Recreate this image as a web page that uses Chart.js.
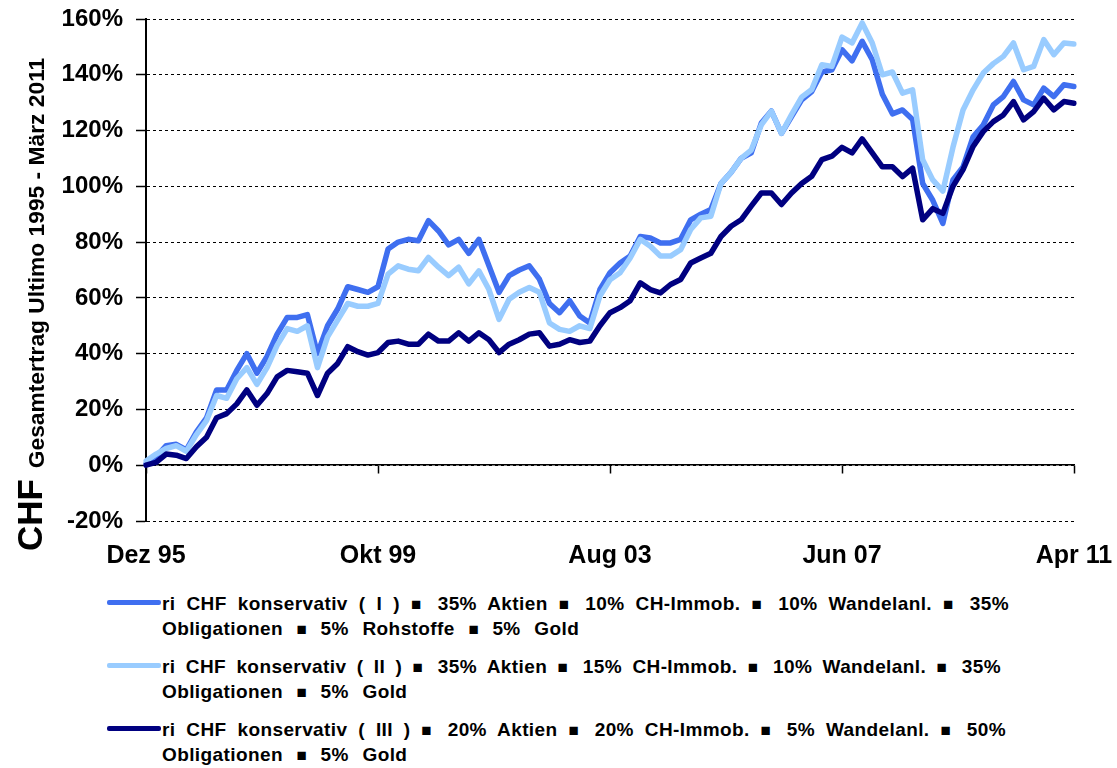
<!DOCTYPE html>
<html>
<head>
<meta charset="utf-8">
<script src="https://cdn.jsdelivr.net/npm/chart.js@4.4.1/dist/chart.umd.min.js"></script>
<style>
  html, body { margin: 0; padding: 0; background: #fff; }
  #wrap { position: relative; width: 1117px; height: 768px; overflow: hidden; }
  #chart { position: absolute; left: 0; top: 0; }
  #legend { position: absolute; left: 107px; top: 592px; font: bold 19px "Liberation Sans", Arial, sans-serif; color: #000; }
  .entry { position: relative; padding-left: 55px; margin-bottom: 13px; line-height: 24px; letter-spacing: 0.4px; }
  .l1 { text-align: justify; text-align-last: justify; }
  .l2 { word-spacing: 8px; }
  .sq { font-size: 17px; letter-spacing: 0; }
  .swatch { position: absolute; left: 0; top: 8px; width: 54px; height: 5px; border-radius: 2px; }
</style>
</head>
<body>
<div id="wrap">
  <canvas id="chart" width="1117" height="575"></canvas>
  <div id="legend"></div>
</div>
<script>
// Monatsnamen fuer die Kategorien (alle 2 Monate ab Dez 95)
const monthNames = ["Jan", "Feb", "Mär", "Apr", "Mai", "Jun", "Jul", "Aug", "Sep", "Okt", "Nov", "Dez"];
const tickLabels = ["Dez 95", "Okt 99", "Aug 03", "Jun 07", "Apr 11"];

const yTitle = "Gesamtertrag Ultimo 1995 - März 2011";
const unitTitle = "CHF";

// ri CHF konservativ (I)
const seriesI = [
  0.5, 3, 7, 7.5, 5.5, 12, 17, 27, 27, 34, 40, 33, 39, 47, 53, 53, 54, 40, 50, 56,
  64, 63, 62, 64, 77.5, 80, 81, 80.5, 87.7, 84, 79, 81, 76, 81, 71.5, 62, 68, 70, 71.5, 66.7,
  58, 54.7, 59, 53.5, 51, 63, 69, 72.5, 75, 82, 81.5, 79.7, 79.7, 81, 88, 90, 91.7, 101, 105, 110,
  112, 122.7, 127, 119, 125, 131, 134, 141, 141.8, 149, 145, 152, 145.4, 133, 126, 127.4, 124, 101, 95, 86.7,
  102.3, 107, 117.8, 122, 129.2, 132.2, 137.6, 131, 129.2, 135.2, 132.2, 136.4, 135.8
];
// ri CHF konservativ (II)
const seriesII = [
  1.5, 4, 6, 7, 5, 11, 16, 25, 24, 31, 35, 29, 35, 43, 49, 48, 50, 35, 46, 52,
  58, 57, 57, 58, 68.5, 71.5, 70.3, 69.7, 74.5, 71, 68, 71, 65, 69.7, 63, 52.3, 59.5, 62, 63.7, 62,
  51, 48.7, 48, 50, 49, 60.7, 66.5, 69, 74.3, 81, 78.5, 75, 75, 77.3, 84.5, 88.7, 89.3, 101, 105, 110,
  113, 122, 127, 119, 125.7, 132, 134.7, 143.6, 143, 153.5, 151.4, 158.6, 151.4, 140, 141, 133.4, 134.6, 109.5, 102.3, 98.3,
  114, 127.4, 134.6, 140.6, 144, 146.6, 151.4, 141.8, 143, 152.6, 147.2, 151.4, 151
];
// ri CHF konservativ (III)
const seriesIII = [
  0, 1, 4, 3.6, 2.4, 6.6, 10, 17, 18.5, 22, 27, 21.5, 25.7, 31.7, 34, 33.5, 33, 25, 33, 36.5,
  42.5, 40.7, 39.5, 40.4, 44, 44.5, 43.4, 43.4, 47, 44.5, 44.5, 47.5, 44.5, 47.5, 45, 40.4, 43.4, 45, 47, 47.5,
  42.7, 43.4, 45, 44, 44.5, 50, 54.7, 56.5, 59, 65.4, 63, 61.8, 64.8, 66.6, 72.5, 74.3, 76, 82, 85.7, 88,
  92.9, 97.6, 97.6, 93.5, 97.6, 101, 103.6, 109.6, 110.8, 114, 112, 117, 112, 107, 107, 103.5, 106.5, 88, 92, 90.3,
  100, 106, 114.3, 119.6, 123.2, 125.6, 130.4, 123.8, 126.8, 131.6, 127.4, 130.4, 129.8
];

const legendI = ["ri CHF konservativ ( I ) ■ 35% Aktien ■ 10% CH-Immob. ■ 10% Wandelanl. ■ 35%", "Obligationen ■ 5% Rohstoffe ■ 5% Gold"];
const legendII = ["ri CHF konservativ ( II ) ■ 35% Aktien ■ 15% CH-Immob. ■ 10% Wandelanl. ■ 35%", "Obligationen ■ 5% Gold"];
const legendIII = ["ri CHF konservativ ( III ) ■ 20% Aktien ■ 20% CH-Immob. ■ 5% Wandelanl. ■ 50%", "Obligationen ■ 5% Gold"];

// Breite der ersten Legendenzeile (Blocksatz)
const legendLineWidths = [847, 839, 844];

const labels = seriesI.map((_, i) => {
    const m = 11 + 2 * i;
    return monthNames[m % 12] + " " + String((95 + Math.floor(m / 12)) % 100).padStart(2, "0");
});

const isTick = l => tickLabels.includes(l);

function fillLine(el, text) {
    text.split("■").forEach((part, i) => {
        if (i > 0) {
            const sq = document.createElement("span");
            sq.className = "sq";
            sq.textContent = "■";
            el.appendChild(sq);
        }
        el.appendChild(document.createTextNode(part));
    });
}

// HTML-Legende mit Zeilenumbruch
const htmlLegend = {
    id: "htmlLegend",
    afterUpdate(chart) {
        const box = document.getElementById("legend");
        box.innerHTML = "";
        chart.data.datasets.forEach((ds, i) => {
            const row = document.createElement("div");
            row.className = "entry";
            const sw = document.createElement("span");
            sw.className = "swatch";
            sw.style.background = ds.borderColor;
            row.appendChild(sw);
            ds.legendLines.forEach((line, j) => {
                const d = document.createElement("div");
                if (j === 0) {
                    d.className = "l1";
                    d.style.width = legendLineWidths[i] + "px";
                } else {
                    d.className = "l2";
                }
                fillLine(d, line);
                row.appendChild(d);
            });
            box.appendChild(row);
        });
    }
};

// gedrehter Achsentitel links
const axisTitle = {
    id: "axisTitle",
    afterDraw(chart) {
        const { ctx, chartArea } = chart;
        ctx.save();
        ctx.fillStyle = "#000";
        ctx.textAlign = "center";
        ctx.textBaseline = "alphabetic";
        ctx.translate(42, chartArea.bottom - 6);
        ctx.rotate(-Math.PI / 2);
        ctx.font = "bold 35px 'Liberation Sans'";
        ctx.fillText(unitTitle, 0, 0);
        ctx.restore();

        ctx.save();
        ctx.fillStyle = "#000";
        ctx.textAlign = "center";
        ctx.textBaseline = "alphabetic";
        ctx.translate(44, (chartArea.top + chartArea.bottom) / 2 - 7);
        ctx.rotate(-Math.PI / 2);
        ctx.font = "bold 22.8px 'Liberation Sans'";
        ctx.fillText(yTitle, 0, 0);
        ctx.restore();
    }
};

new Chart(document.getElementById("chart"), {
    type: "line",
    data: {
        labels: labels,
        datasets: [
            { label: legendI.join(" "), legendLines: legendI, data: seriesI, borderColor: "#3F6FF0", order: 3 },
            { label: legendII.join(" "), legendLines: legendII, data: seriesII, borderColor: "#99CCFF", order: 2 },
            { label: legendIII.join(" "), legendLines: legendIII, data: seriesIII, borderColor: "#000080", order: 1 }
        ].map(ds => Object.assign(ds, {
            borderWidth: 5.5,
            pointRadius: 0,
            tension: 0,
            fill: false,
            borderJoinStyle: "round",
            borderCapStyle: "round"
        }))
    },
    options: {
        responsive: false,
        animation: false,
        layout: { padding: { top: 19, right: 43, bottom: 0, left: 0 } },
        plugins: {
            legend: { display: false },
            tooltip: { enabled: false }
        },
        scales: {
            x: {
                type: "category",
                position: "bottom",
                offset: false,
                border: { display: false },
                grid: { display: false },
                ticks: {
                    autoSkip: false,
                    maxRotation: 0,
                    padding: 12,
                    color: "#000",
                    font: { family: "'Liberation Sans'", size: 25, weight: "bold" },
                    callback(v) {
                        const l = this.getLabelForValue(v);
                        return isTick(l) ? l : null;
                    }
                },
                afterFit(s) {
                    s.height = 54;
                    s.paddingLeft = 0;
                    s.paddingRight = 0;
                }
            },
            x0: {
                type: "category",
                position: { y: 0 },
                offset: false,
                border: { display: true, color: "#000", width: 1.5 },
                grid: {
                    drawOnChartArea: false,
                    drawTicks: true,
                    tickLength: 8,
                    tickWidth: 1.5,
                    color: c => isTick(labels[c.index]) ? "#000" : "rgba(0,0,0,0)",
                    tickColor: c => isTick(labels[c.index]) ? "#000" : "rgba(0,0,0,0)"
                },
                ticks: { display: false, autoSkip: false },
                afterFit(s) {
                    s.paddingLeft = 0;
                    s.paddingRight = 0;
                }
            },
            y: {
                min: -20,
                max: 160,
                border: { display: true, color: "#000", width: 2, dash: [3, 3] },
                grid: {
                    color: "#000",
                    lineWidth: 1,
                    tickLength: 10,
                    tickColor: "#000",
                    tickWidth: 1.5,
                    tickBorderDash: []
                },
                ticks: {
                    stepSize: 20,
                    padding: 13,
                    color: "#000",
                    font: { family: "'Liberation Sans'", size: 24, weight: "bold" },
                    callback: v => v + "%"
                },
                afterFit(s) {
                    s.width = 146;
                    s.paddingTop = 0;
                    s.paddingBottom = 0;
                }
            }
        }
    },
    plugins: [htmlLegend, axisTitle]
});
</script>
</body>
</html>
